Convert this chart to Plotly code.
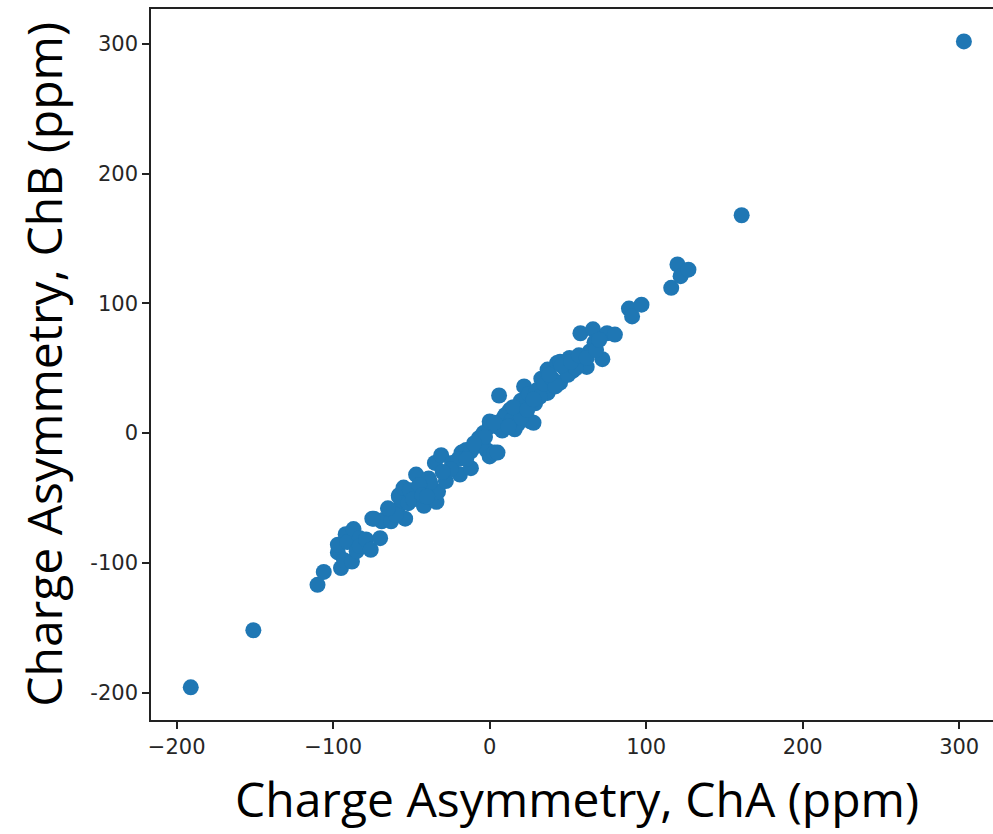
import plotly.graph_objects as go

# Data (ppm)
cha = [-191, -151, -110, -106, -95, -97, -97, -93, -92, -91, -87, -88, -85, -83, -83, -79, -76, -70,
       -74, -69, -68, -63, -59, -58, -58, -55, -54, -52, -51, -49, -47, -42, -42, -39, -34, -33,
       -35, -31, -28, -24, -19, -18, -15, -12, -12, -9, -7, -6, -4, -2, 0, 0, 0, 3, 5, 6, 9, 13,
       16, 18, 22, 24, 26, 28, 29, 33, 37, 37, 43, 45, 45, 51, 53, 58, 59, 60, 62, 64, 66, 67,
       72, 75, 80, 89, 91, 97, 116, 120, 122, 127, 161, 303,
       10, 14, 20, 20, 25, 30, 32, 35, 40, 42, 48, 50, 55, 20, 15, 5, 8, -3, -20, -25, -30,
       -38, -45, -43, -60, -65, -10, -15, 3, 12, 24, 28, 38, 46, 52, 57, 62, 68, 70, -40, -75]
chb = [-196, -152, -117, -107, -104, -92, -86, -98, -78, -84, -74, -99, -91, -81, -87, -82, -90, -81,
       -66, -68, -67, -68, -59, -48, -49, -42, -66, -54, -44, -51, -32, -56, -45, -35, -53, -45,
       -23, -17, -37, -23, -32, -15, -13, -14, -27, -10, -4, -5, 0, -13, 5, 9, -18, -15, -15, 29, 12, 18,
       3, 7, 36, 22, 9, 8, 23, 42, 49, 31, 54, 39, 55, 58, 48, 77, 54, 53, 51, 63, 80, 70,
       57, 77, 76, 96, 90, 99, 112, 130, 121, 126, 168, 302,
       14, 10, 15, 25, 30, 33, 28, 38, 42, 36, 50, 45, 50, 12, 20, 5, 2, -3, -20, -28, -30,
       -38, -40, -48, -63, -58, -8, -20, 8, 5, 18, 26, 45, 52, 55, 60, 58, 64, 72, -49, -66]

xticks = [-200, -100, 0, 100, 200, 300]
xticktext = ["\u2212200", "\u2212100", "0", "100", "200", "300"]
yticks = [-200, -100, 0, 100, 200, 300]
yticktext = ["-200", "-100", "0", "100", "200", "300"]

fig = go.Figure()
fig.add_trace(go.Scatter(
    x=cha, y=chb, mode="markers",
    marker=dict(color="#1f77b4", size=16, line=dict(width=0)),
    showlegend=False, hoverinfo="skip"))

axis_common = dict(
    showgrid=False, zeroline=False, showline=True, linecolor="#222", linewidth=1.6,
    ticks="outside", ticklen=7, tickwidth=1.6, tickcolor="#222",
    tickfont=dict(family="DejaVu Sans", size=21, color="#262626"),
)

fig.update_layout(
    width=993, height=834,
    margin=dict(l=151, r=0, t=9, b=114),
    paper_bgcolor="white", plot_bgcolor="white",
    xaxis=dict(range=[-216.4, 321.6], tickvals=xticks, ticktext=xticktext, mirror=True, **axis_common),
    yaxis=dict(range=[-221.2, 327.0], tickvals=yticks, ticktext=yticktext, mirror=False, **axis_common),
    annotations=[
        dict(text="Charge Asymmetry, ChA (ppm)", xref="paper", yref="paper",
             x=0.506, y=-0.062, xanchor="center", yanchor="top", showarrow=False,
             font=dict(family="Open Sans", size=48, color="black")),
        dict(text="Charge Asymmetry, ChB (ppm)", xref="paper", yref="paper",
             x=-0.128, y=0.5, xanchor="center", yanchor="middle", textangle=-90, showarrow=False,
             font=dict(family="Open Sans", size=48, color="black")),
    ],
)

fig.write_html("out.html")
